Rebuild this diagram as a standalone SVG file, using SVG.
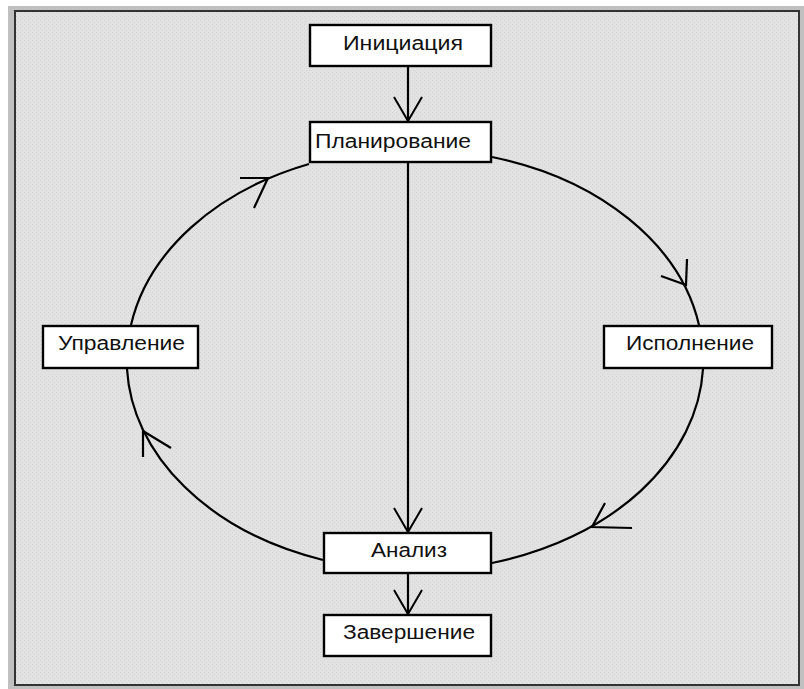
<svg xmlns="http://www.w3.org/2000/svg" width="804" height="689" viewBox="0 0 804 689">
<style>
.node rect{fill:#ffffff;stroke:#000000;stroke-width:2.4}
.node text{font-family:"Liberation Sans",Arial,sans-serif;font-size:20px;fill:#111111}
.conn{fill:none;stroke:#000000;stroke-width:2.2}
.barb{fill:none;stroke:#000000;stroke-width:2.2;stroke-linecap:butt}
</style>
<defs>
<pattern id="dots" width="4" height="4" patternUnits="userSpaceOnUse">
<rect width="4" height="4" fill="#e2e2e2"/>
<rect x="0" y="0" width="1" height="1" fill="#d4d4d4"/>
<rect x="2" y="2" width="1" height="1" fill="#d4d4d4"/>
</pattern>
<marker id="vhead" markerUnits="userSpaceOnUse" markerWidth="30" markerHeight="32" viewBox="-26 -16 30 32" refX="0" refY="0" orient="auto">
<path d="M-24,-14 L0,0 L-24,14" fill="none" stroke="#000" stroke-width="2"/>
</marker>
</defs>
<rect x="0" y="0" width="804" height="689" fill="#ffffff"/>
<rect x="8" y="6" width="796" height="683" fill="#c0c0c0"/>
<rect x="15" y="11" width="784" height="674" fill="url(#dots)" stroke="#333333" stroke-width="2"/>

<g id="connectors">
<path class="conn" d="M408,67 L408,121" marker-end="url(#vhead)"/>
<path class="conn" d="M408,163 L408,532" marker-end="url(#vhead)"/>
<path class="conn" d="M408,574 L408,614" marker-end="url(#vhead)"/>
<path class="conn" d="M492,157 A288,211 0 0 1 699,325"/>
<path class="conn" d="M703,369 A288,211 0 0 1 492,563"/>
<path class="conn" d="M323,560 A288,211 0 0 1 127,369"/>
<path class="conn" d="M131,325 A288,211 0 0 1 309,164"/>
<path class="barb" d="M687,259 L686,285 L661,276"/>
<path class="barb" d="M632,528 L592,527 L605,503"/>
<path class="barb" d="M143,457 L143,431 L171,448"/>
<path class="barb" d="M240,178 L268,178 L254,208"/>
</g>

<g id="node-initiation" class="node">
<rect x="310" y="25" width="181" height="41"/>
<text x="343" y="50" textLength="120" lengthAdjust="spacingAndGlyphs">Инициация</text>
</g>
<g id="node-planning" class="node">
<rect x="310" y="122" width="181" height="40"/>
<text x="315" y="148" textLength="156" lengthAdjust="spacingAndGlyphs">Планирование</text>
</g>
<g id="node-control" class="node">
<rect x="43" y="326" width="155" height="42"/>
<text x="58" y="350" textLength="127" lengthAdjust="spacingAndGlyphs">Управление</text>
</g>
<g id="node-execution" class="node">
<rect x="604" y="326" width="168" height="42"/>
<text x="626" y="350" textLength="128" lengthAdjust="spacingAndGlyphs">Исполнение</text>
</g>
<g id="node-analysis" class="node">
<rect x="324" y="533" width="167" height="40"/>
<text x="371" y="557" textLength="76" lengthAdjust="spacingAndGlyphs">Анализ</text>
</g>
<g id="node-completion" class="node">
<rect x="324" y="615" width="167" height="41"/>
<text x="343" y="639" textLength="132" lengthAdjust="spacingAndGlyphs">Завершение</text>
</g>
</svg>
